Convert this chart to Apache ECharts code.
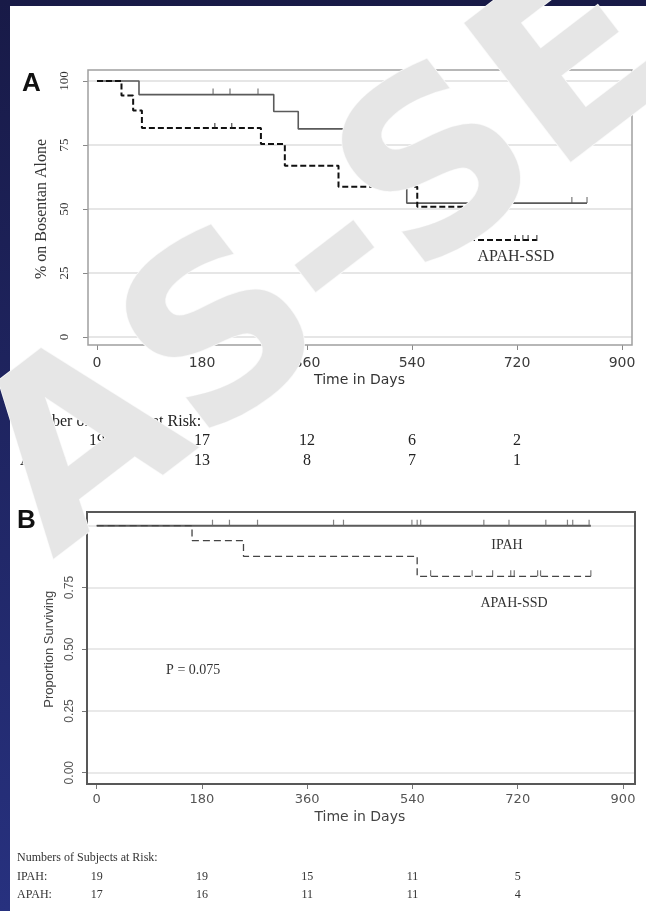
<!DOCTYPE html>
<html>
<head>
<meta charset="utf-8">
<script src="https://cdn.jsdelivr.net/npm/echarts@6/dist/echarts.min.js"></script>
<style>html,body{margin:0;padding:0;background:#1b1f50;}#c{width:646px;height:911px;}</style>
</head>
<body>
<div id="c"></div>
<script>
// ---------- Chart A data (% on Bosentan alone) ----------
const aXTicks = [0, 180, 360, 540, 720, 900];
const aYTicks = [0, 25, 50, 75, 100];
const aIpahTimes = [0, 72, 303, 345, 440, 500, 531];
const aIpahSurv  = [100, 94.7, 88.1, 81.3, 70.5, 58.7, 52.3];
const aIpahEnd = 840;
const aIpahCensor = [199, 228, 276, 814, 840];
const aApahTimes = [0, 42, 62, 77, 281, 322, 414, 549, 638];
const aApahSurv  = [100, 94.3, 88.5, 81.6, 75.4, 66.9, 58.7, 50.9, 37.9];
const aApahEnd = 754;
const aApahCensor = [202, 231, 717, 730, 739, 754];
const riskDays = [0, 180, 360, 540, 720];
const aRiskIpah = [19, 17, 12, 6, 2];
const aRiskApah = [17, 13, 8, 7, 1];

// ---------- Chart B data (proportion surviving) ----------
const bXTicks = [0, 180, 360, 540, 720, 900];
const bYTicks = [0, 0.25, 0.5, 0.75, 1];
const bIpahTimes = [0];
const bIpahSurv  = [1.0];
const bIpahEnd = 845;
const bIpahCensor = [198, 227, 275, 405, 422, 539, 548, 554, 662, 705, 768, 805, 814, 842];
const bApahTimes = [0, 163, 251, 548];
const bApahSurv  = [1.0, 0.94, 0.876, 0.795];
const bApahEnd = 845;
const bApahCensor = [571, 642, 677, 708, 714, 754, 759, 845];
const bRiskIpah = [19, 19, 15, 11, 5];
const bRiskApah = [17, 16, 11, 11, 4];

function stepData(times, vals, end) {
  const d = times.map((t, i) => [t, vals[i]]);
  d.push([end, vals[vals.length - 1]]);
  return d;
}
function survAt(times, vals, t) {
  let v = vals[0];
  for (let i = 0; i < times.length; i++) if (times[i] <= t) v = vals[i];
  return v;
}
function censorData(times, vals, cs) { return cs.map(t => [t, survAt(times, vals, t)]); }

const SERIF = '"Liberation Serif", "Times New Roman", serif';
const SANS = '"DejaVu Sans", sans-serif';
const SANS2 = '"Liberation Sans", Arial, sans-serif';

const chart = echarts.init(document.getElementById('c'), null, {renderer: 'canvas'});

const hiddenAxis = (gi, min, max) => ({gridIndex: gi, type: 'value', min: min, max: max, show: false});

const option = {
  animation: false,
  backgroundColor: {type: 'linear', x: 0, y: 0, x2: 0, y2: 1,
    colorStops: [{offset: 0, color: '#181a47'}, {offset: 1, color: '#27317f'}]},
  grid: [
    {left: 88, top: 70, width: 544, height: 275, show: true, borderColor: '#a0a0a0', borderWidth: 1.5, backgroundColor: 'transparent', z: 1},
    {left: 88, top: 81, width: 544, height: 256},
    {left: 97, top: 70, width: 525, height: 275},
    {left: 87, top: 512, width: 548, height: 272, show: true, borderColor: '#585858', borderWidth: 2, backgroundColor: 'transparent', z: 1},
    {left: 87, top: 525.7, width: 548, height: 247},
    {left: 96.7, top: 512, width: 526.3, height: 272}
  ],
  xAxis: [
    hiddenAxis(0, -15.4, 917.1),
    hiddenAxis(1, 0, 1),
    {gridIndex: 2, type: 'value', min: aXTicks[0], max: aXTicks[aXTicks.length - 1], interval: aXTicks[1] - aXTicks[0],
      axisLine: {show: false}, axisTick: {show: true, length: 5, lineStyle: {color: '#888', width: 1}},
      axisLabel: {margin: 11, fontFamily: SANS, fontSize: 14, color: '#3a3a3a'}, splitLine: {show: false},
      name: 'Time in Days', nameLocation: 'middle', nameGap: 28,
      nameTextStyle: {fontFamily: SANS, fontSize: 14, color: '#333'}},
    hiddenAxis(3, -16.6, 920.5),
    hiddenAxis(4, 0, 1),
    {gridIndex: 5, type: 'value', min: bXTicks[0], max: bXTicks[bXTicks.length - 1], interval: bXTicks[1] - bXTicks[0],
      axisLine: {show: false}, axisTick: {show: true, length: 5, lineStyle: {color: '#777', width: 1}},
      axisLabel: {margin: 9, fontFamily: SANS, fontSize: 13, color: '#555'}, splitLine: {show: false},
      name: 'Time in Days', nameLocation: 'middle', nameGap: 26,
      nameTextStyle: {fontFamily: SANS, fontSize: 14, color: '#444'}}
  ],
  yAxis: [
    hiddenAxis(0, -3.125, 104.3),
    {gridIndex: 1, type: 'value', min: aYTicks[0], max: aYTicks[aYTicks.length - 1], interval: aYTicks[1] - aYTicks[0],
      axisLine: {show: false}, axisTick: {show: true, length: 5, lineStyle: {color: '#888'}},
      axisLabel: {rotate: 90, margin: 17, fontFamily: SERIF, fontSize: 13, color: '#333'},
      splitLine: {show: true, lineStyle: {color: '#dedede', width: 1.5}},
      name: '% on Bosentan Alone', nameLocation: 'middle', nameGap: 35,
      nameTextStyle: {fontFamily: SERIF, fontSize: 16, color: '#333'}},
    hiddenAxis(2, 0, 1),
    hiddenAxis(3, -0.0457, 1.0555),
    {gridIndex: 4, type: 'value', min: bYTicks[0], max: bYTicks[bYTicks.length - 1], interval: bYTicks[1] - bYTicks[0],
      axisLine: {show: false}, axisTick: {show: true, length: 5, lineStyle: {color: '#777'}},
      axisLabel: {rotate: 90, margin: 11, fontFamily: SANS2, fontSize: 12, color: '#555', formatter: v => v.toFixed(2)},
      splitLine: {show: true, lineStyle: {color: '#e2e2e2', width: 1.5}},
      name: 'Proportion Surviving', nameLocation: 'middle', nameGap: 30,
      nameTextStyle: {fontFamily: SANS2, fontSize: 13, color: '#444'}},
    hiddenAxis(5, 0, 1)
  ],
  series: [
    {type: 'line', xAxisIndex: 0, yAxisIndex: 0, step: 'end', symbol: 'none', z: 4,
      data: stepData(aIpahTimes, aIpahSurv, aIpahEnd), lineStyle: {color: '#5a5a5a', width: 1.6}},
    {type: 'line', xAxisIndex: 0, yAxisIndex: 0, step: 'end', symbol: 'none', z: 5,
      data: stepData(aApahTimes, aApahSurv, aApahEnd), lineStyle: {color: '#111', width: 2, type: [6, 3]}},
    {type: 'scatter', xAxisIndex: 0, yAxisIndex: 0, symbol: 'rect', symbolSize: [1.2, 6], symbolOffset: [0, -3], z: 4,
      data: censorData(aIpahTimes, aIpahSurv, aIpahCensor), itemStyle: {color: '#5a5a5a'}},
    {type: 'scatter', xAxisIndex: 0, yAxisIndex: 0, symbol: 'rect', symbolSize: [1.2, 6], symbolOffset: [0, -2], z: 5,
      data: censorData(aApahTimes, aApahSurv, aApahCensor), itemStyle: {color: '#222'}},
    {type: 'line', xAxisIndex: 3, yAxisIndex: 3, step: 'end', symbol: 'none', z: 4,
      data: stepData(bIpahTimes, bIpahSurv, bIpahEnd), lineStyle: {color: '#5c5c5c', width: 2}},
    {type: 'line', xAxisIndex: 3, yAxisIndex: 3, step: 'end', symbol: 'none', z: 5,
      data: stepData(bApahTimes, bApahSurv, bApahEnd), lineStyle: {color: '#444', width: 1.3, type: [7, 4]}},
    {type: 'scatter', xAxisIndex: 3, yAxisIndex: 3, symbol: 'rect', symbolSize: [1.2, 6], symbolOffset: [0, -3], z: 4,
      data: censorData(bIpahTimes, bIpahSurv, bIpahCensor), itemStyle: {color: '#666'}},
    {type: 'scatter', xAxisIndex: 3, yAxisIndex: 3, symbol: 'rect', symbolSize: [1.2, 6], symbolOffset: [0, -3], z: 5,
      data: censorData(bApahTimes, bApahSurv, bApahCensor), itemStyle: {color: '#555'}}
  ]
};
chart.setOption(option);

// ---------- annotations / tables placed through the axes ----------
function px(xi, yi, x, y) { return chart.convertToPixel({xAxisIndex: xi, yAxisIndex: yi}, [x, y]); }
function txt(x, y, text, font, color, align, extra) {
  return Object.assign({type: 'text', x: x, y: y, z: 50, silent: true,
    style: {text: text, font: font, fill: color || '#222', textAlign: align || 'left', align: align || 'left',
      textVerticalAlign: 'middle', verticalAlign: 'middle'}}, extra || {});
}
const g = [];
g.push({type: 'rect', shape: {x: 10, y: 6, width: 636, height: 905}, style: {fill: '#ffffff'}, z: -100, silent: true});
g.push(txt(22, 84, 'A', 'bold 26px ' + SANS2, '#111'));
g.push(txt(17, 521, 'B', 'bold 26px ' + SANS2, '#111'));

// chart A annotation
let p = px(0, 0, 718, 31.2);
g.push(txt(p[0], p[1], 'APAH-SSD', '16px ' + SERIF, '#333', 'center'));
// chart B annotations
p = px(3, 3, 701.6, 0.922);
g.push(txt(p[0], p[1], 'IPAH', '14px ' + SERIF, '#333', 'center'));
p = px(3, 3, 713.6, 0.687);
g.push(txt(p[0], p[1], 'APAH-SSD', '14px ' + SERIF, '#333', 'center'));
p = px(3, 3, 165, 0.416);
g.push(txt(p[0], p[1], 'P = 0.075', '14px ' + SERIF, '#333', 'center'));

// risk table A
g.push(txt(20, 422, 'Number of Subjects at Risk:', '16px ' + SERIF, '#222'));
g.push(txt(20, 441, 'IPAH:', '16px ' + SERIF, '#222'));
g.push(txt(20, 461, 'APAH:', '16px ' + SERIF, '#222'));
riskDays.forEach((d, i) => {
  const x = chart.convertToPixel({xAxisIndex: 2}, d);
  g.push(txt(x, 441, String(aRiskIpah[i]), '16px ' + SERIF, '#222', 'center'));
  g.push(txt(x, 461, String(aRiskApah[i]), '16px ' + SERIF, '#222', 'center'));
});
// risk table B
g.push(txt(17, 858, 'Numbers of Subjects at Risk:', '12px ' + SERIF, '#333'));
g.push(txt(17, 877, 'IPAH:', '12px ' + SERIF, '#333'));
g.push(txt(17, 895, 'APAH:', '12px ' + SERIF, '#333'));
riskDays.forEach((d, i) => {
  const x = chart.convertToPixel({xAxisIndex: 5}, d);
  g.push(txt(x, 877, String(bRiskIpah[i]), '12px ' + SERIF, '#333', 'center'));
  g.push(txt(x, 895, String(bRiskApah[i]), '12px ' + SERIF, '#333', 'center'));
});

// watermark
g.push({type: 'text', x: 330, y: 268, rotation: 37.5 * Math.PI / 180, z: 200, silent: true,
  style: {text: 'AS-SE', font: 'bold 240px "DejaVu Sans"', fill: '#e6e6e6',
    textAlign: 'center', align: 'center', textVerticalAlign: 'middle', verticalAlign: 'middle',
    stroke: '#fafafa', lineWidth: 1.5,
    shadowColor: 'rgba(0,0,0,0.45)', shadowBlur: 3, shadowOffsetX: 1.5, shadowOffsetY: 1.5}});

chart.setOption({graphic: {elements: g}});
</script>
</body>
</html>
